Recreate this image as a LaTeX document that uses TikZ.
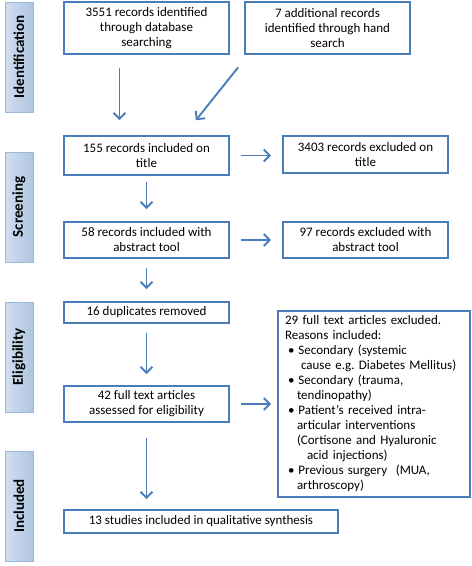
\documentclass[tikz,border=0pt]{standalone}
\usepackage{fontspec}
\setmainfont{Carlito}
\usetikzlibrary{arrows.meta,shadows}
\definecolor{prisma}{HTML}{4A7EBB}
\tikzset{
 stage/.style={draw=prisma, line width=1.8pt, align=center, inner sep=2pt,
  minimum width=165pt, font=\fontsize{13}{15}\selectfont},
 phase/.style={draw=prisma!55, line width=0.8pt, left color=prisma!25, right color=prisma!45,
  rotate=90, minimum width=110pt, minimum height=28pt, inner sep=0pt,
  drop shadow={opacity=0.25, shadow xshift=1pt, shadow yshift=-1pt},
  font=\fontsize{15}{15}\selectfont\bfseries},
 flow/.style={draw=prisma, line width=1.9pt, -{Straight Barb[length=6pt,width=12pt]}}
}
\begin{document}
\begin{tikzpicture}[x=1pt,y=-1pt]
\path[fill=white] (0,0) rectangle (472,566);

\node[phase] (ident) at (19,57) {Identification};
\node[phase] (screen) at (19,207) {Screening};
\node[phase] (elig) at (19,357) {Eligibility};
\node[phase] (incl) at (19,506) {Included};

\node[stage, minimum height=52pt] (dbase) at (146.5,28)
 {3551 records identified\\ through database\\ searching};
\node[stage, minimum height=52pt] (hand) at (327.5,28)
 {7 additional records\\ identified through hand\\ search};
\node[stage, minimum height=39pt] (title) at (146.5,155.5)
 {155 records included on\\ title};
\node[stage, minimum height=37pt] (titlex) at (365.5,154.5)
 {3403 records excluded on\\ title};
\node[stage, minimum height=36pt] (abstr) at (146.5,240)
 {58 records included with\\ abstract tool};
\node[stage, minimum height=36pt] (abstrx) at (365.5,240)
 {97 records excluded with\\ abstract tool};
\node[stage, minimum height=21pt] (dupl) at (146.5,312.5) {16 duplicates removed};
\node[stage, minimum height=36pt] (full) at (146.5,404)
 {42 full text articles\\ assessed for eligibility};
\node[stage, align=left, minimum width=192pt, minimum height=186pt, inner xsep=7pt,
 text width=178pt] (fullx) at (374,404)
 {29 full text articles excluded.\\
 Reasons included:\\
 \hspace*{3pt}•\hspace*{4pt}Secondary (systemic\\
 \hspace*{16pt}cause e.g.\ Diabetes Mellitus)\\
 \hspace*{3pt}•\hspace*{4pt}Secondary (trauma,\\
 \hspace*{12pt}tendinopathy)\\
 \hspace*{3pt}•\hspace*{4pt}Patient’s received intra-\\
 \hspace*{12pt}articular interventions\\
 \hspace*{12pt}(Cortisone and Hyaluronic\\
 \hspace*{22pt}acid injections)\\
 \hspace*{3pt}•\hspace*{4pt}Previous surgery\ \ (MUA,\\
 \hspace*{12pt}arthroscopy)};
\node[stage, minimum width=274pt, minimum height=23pt] (synth) at (201,521.5)
 {13 studies included in qualitative synthesis};

\draw[flow, shorten <=13pt, shorten >=15pt] ([xshift=-27pt]dbase.south) -- ([xshift=-27pt]title.north);
\draw[flow, shorten <=16pt, shorten >=19pt] ([xshift=4pt]hand.south west) -- ([xshift=37.5pt]title.north);
\draw[flow, shorten <=11pt, shorten >=11pt] (title.east) -- (title.east -| titlex.west);
\draw[flow, shorten <=6pt, shorten >=12pt] (title.south) -- (abstr.north);
\draw[flow, shorten <=11pt, shorten >=11pt] (abstr.east) -- (abstrx.west);
\draw[flow, shorten <=9pt, shorten >=12pt] (abstr.south) -- (dupl.north);
\draw[flow, shorten <=9pt, shorten >=11pt] (dupl.south) -- (full.north);
\draw[flow, shorten <=11pt, shorten >=6pt] (full.east) -- (full.east -| fullx.west);
\draw[flow, shorten <=15pt, shorten >=10pt] (full.south) -- (full.south |- synth.north);
\end{tikzpicture}
\end{document}
